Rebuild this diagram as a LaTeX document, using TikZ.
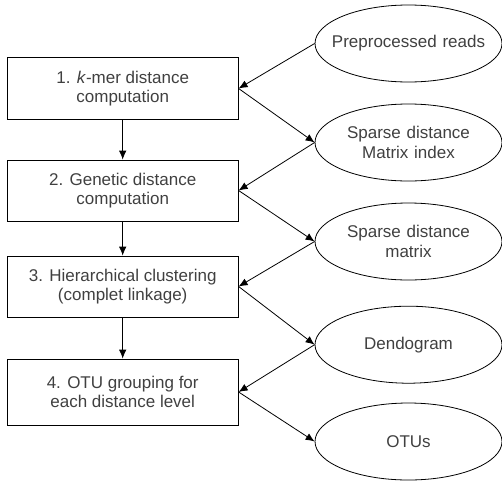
\documentclass[tikz,border=0pt]{standalone}
\usepackage{fontspec}
\setmainfont{Liberation Sans}
\usetikzlibrary{shapes.geometric, arrows.meta}
\definecolor{txtgray}{HTML}{404040}

\begin{document}
\begin{tikzpicture}[x=1pt, y=1pt, line width=0.8pt,
        stepbox/.style={draw, rectangle, minimum width=231pt, minimum height=62pt,
            align=center, text=txtgray, font=\fontsize{17}{19.5}\selectfont},
        datanode/.style={draw, ellipse, minimum width=187pt, minimum height=77pt,
            inner sep=0pt, text width=132pt, align=center, text=txtgray,
            font=\fontsize{17}{19.5}\selectfont},
        flow/.style={-{Latex[length=9pt, width=7.5pt]}}]
            \useasboundingbox (0,0) rectangle (502,-482);
            \draw (122.7,-88.5) node[stepbox] (kmer) {1. \textit{k}-mer distance\\computation};
            \draw (122.7,-190.5) node[stepbox, minimum height=61pt] (gen) {2. Genetic distance\\computation};
            \draw (122.7,-286.5) node[stepbox, minimum height=61pt] (clust) {3. Hierarchical clustering\\(complet linkage)};
            \draw (122.7,-392) node[stepbox, minimum height=66pt] (otugrp) {4. OTU grouping for\\each distance level};
            \draw (408.5,-43.5) node[datanode] (reads) {\makebox[132pt][c]{Preprocessed reads}};
            \draw (408.5,-142.5) node[datanode] (index) {Sparse distance\\Matrix index};
            \draw (408.5,-241.5) node[datanode] (matrix) {Sparse distance\\matrix};
            \draw (408.5,-344.7) node[datanode] (dendo) {Dendogram};
            \draw (408.5,-441.5) node[datanode] (otus) {OTUs};
            \path (reads.west) edge[flow] (kmer.east)
                  (kmer.east) edge[flow] (index.west)
                  (index.west) edge[flow] (gen.east)
                  (gen.east) edge[flow] (matrix.west)
                  (matrix.west) edge[flow] (clust.east)
                  (clust.east) edge[flow] (dendo.west)
                  (dendo.west) edge[flow] (otugrp.east)
                  (otugrp.east) edge[flow] (otus.west)
                  (kmer) edge[flow] (gen)
                  (gen) edge[flow] (clust)
                  (clust) edge[flow] (otugrp);
        \end{tikzpicture}
\end{document}
